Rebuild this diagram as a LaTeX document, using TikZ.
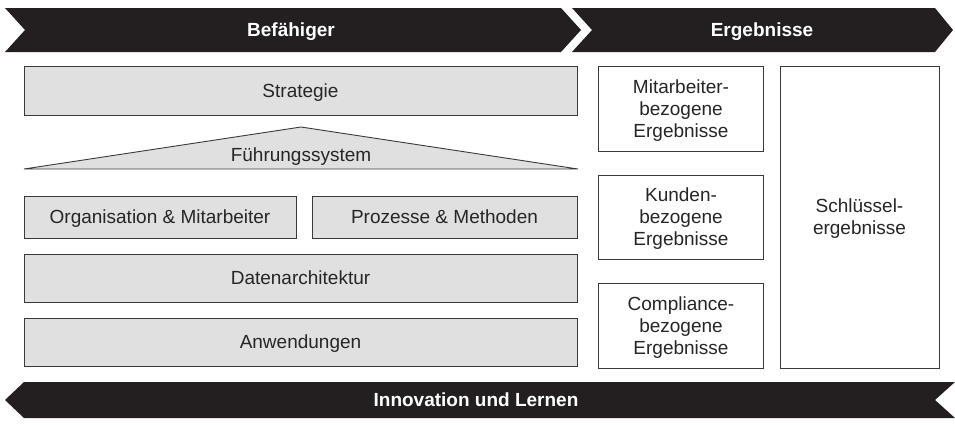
\documentclass[tikz,border=0pt]{standalone}
\usepackage{fontspec}
\setmainfont{Liberation Sans}
\definecolor{band}{HTML}{231F20}
\definecolor{boxfill}{HTML}{E0E0E0}
\definecolor{boxline}{HTML}{3A3A3A}
\begin{document}
\begin{tikzpicture}[x=1pt,y=-1pt,
  every node/.style={font=\fontsize{19}{22}\selectfont, text=black!85},
  graybox/.style={draw=boxline, fill=boxfill, line width=0.9pt, inner sep=0pt, text depth=0pt},
  whitebox/.style={draw=boxline, fill=white, line width=0.9pt, inner sep=0pt, align=center, text depth=0pt},
  bandtext/.style={font=\fontsize{19}{22}\selectfont\bfseries, text=white, text depth=0pt},
  bandfill/.style={fill=band}]
\useasboundingbox (0,0) rectangle (955,424);
% banners
\fill[bandfill] (5,8) -- (561,8) -- (581,30) -- (561,52) -- (5,52) -- (25,30) -- cycle;
\fill[bandfill] (572,8) -- (935,8) -- (953,30) -- (935,52) -- (572,52) -- (592,30) -- cycle;
\fill[bandfill] (24,382) -- (955,382) -- (935,400) -- (955,418) -- (24,418) -- (5,400) -- cycle;
\node[bandtext] (bef) at (291,30) {Befähiger};
\node[bandtext] (erg) at (762,30) {Ergebnisse};
\node[bandtext] (inn) at (476,400) {Innovation und Lernen};
% left boxes
\node[graybox, minimum width=553pt, minimum height=49pt] (strat) at (300.5,90.5) {Strategie};
\draw[boxline, fill=boxfill, line width=0.9pt] (24,169) -- (301,127) -- (578,169) -- cycle;
\node[text depth=0pt] (fuehr) at (301,155) {Führungssystem};
\node[graybox, minimum width=272pt, minimum height=42pt] (orga) at (160,217) {Organisation \& Mitarbeiter};
\node[graybox, minimum width=265pt, minimum height=42pt] (proz) at (444.5,217) {Prozesse \& Methoden};
\node[graybox, minimum width=553pt, minimum height=48pt] (daten) at (300.5,278) {Datenarchitektur};
\node[graybox, minimum width=553pt, minimum height=48pt] (anw) at (300.5,342) {Anwendungen};
% right boxes
\node[whitebox, minimum width=165pt, minimum height=85pt] (mit) at (681,108.5) {Mitarbeiter-\\bezogene\\Ergebnisse};
\node[whitebox, minimum width=165pt, minimum height=84pt] (kun) at (681,217) {Kunden-\\bezogene\\Ergebnisse};
\node[whitebox, minimum width=165pt, minimum height=85pt] (comp) at (681,325.5) {Compliance-\\bezogene\\Ergebnisse};
\node[whitebox, minimum width=159pt, minimum height=302pt] (schl) at (859.5,217) {Schlüssel-\\ergebnisse};
\end{tikzpicture}
\end{document}
